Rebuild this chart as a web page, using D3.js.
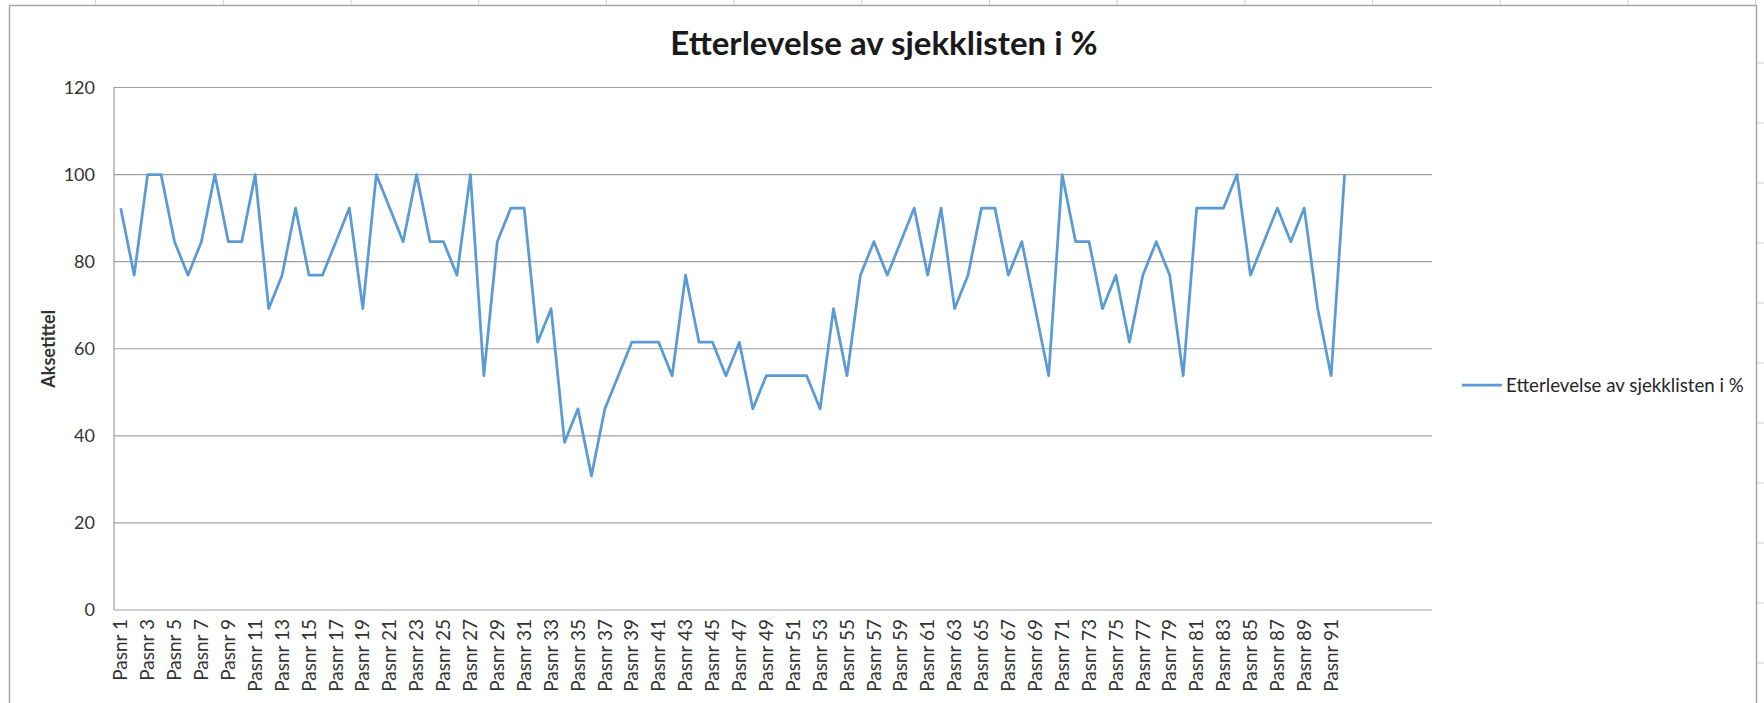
<!DOCTYPE html>
<html lang="en">
<head>
    <meta charset="UTF-8">
    <title>Etterlevelse av sjekklisten i %</title>
</head>

<style>
    body {
        margin: 0;
        background: #fff;
    }
    .title {
        font: bold 33px Lato;
        fill: #1a1a1a;
    }
    .axticks text {
        font: 18px Lato;
        fill: #333;
    }
    .xticks text {
        font-size: 19px;
    }
    .grid line {
        stroke: #a0a0a0;
        stroke-width: 1.2px;
    }
    .axlabel {
        font: bold 18px Lato;
        fill: #333;
    }
    .legend text {
        font: 18.7px Lato;
        fill: #262626;
    }
    path.line {
        fill: none;
        stroke: #5b9bd5;
        stroke-width: 2.75px;
        stroke-linejoin: round;
    }
</style>
<body>
<div id="my_dataviz"></div>
</body>

<script src="https://cdn.jsdelivr.net/npm/d3@7"></script>

<script>
    // data (13 point checklist, so values are multiples of 1/13)
    var categories = d3.range(1, 93).map(function(i) { return "Pasnr " + i; });
    var blankCategories = 6;   // empty slots after Pasnr 92 in the sheet
    var values = [
        92.3, 76.9, 100, 100, 84.6, 76.9, 84.6, 100, 84.6, 84.6,
        100, 69.2, 76.9, 92.3, 76.9, 76.9, 84.6, 92.3, 69.2, 100,
        92.3, 84.6, 100, 84.6, 84.6, 76.9, 100, 53.8, 84.6, 92.3,
        92.3, 61.5, 69.2, 38.5, 46.2, 30.8, 46.2, 53.8, 61.5, 61.5,
        61.5, 53.8, 76.9, 61.5, 61.5, 53.8, 61.5, 46.2, 53.8, 53.8,
        53.8, 53.8, 46.2, 69.2, 53.8, 76.9, 84.6, 76.9, 84.6, 92.3,
        76.9, 92.3, 69.2, 76.9, 92.3, 92.3, 76.9, 84.6, 69.2, 53.8,
        100, 84.6, 84.6, 69.2, 76.9, 61.5, 76.9, 84.6, 76.9, 53.8,
        92.3, 92.3, 92.3, 100, 76.9, 84.6, 92.3, 84.6, 92.3, 69.2,
        53.8, 100
    ];
    var yTicks = [0, 20, 40, 60, 80, 100, 120];
    var chartTitle = "Etterlevelse av sjekklisten i %";
    var seriesName = "Etterlevelse av sjekklisten i %";
    var yTitle = "Aksetittel";

    var W = 1764, H = 703;
    var margin = {top: 87.5, right: 332, bottom: 93, left: 114},
        width = W - margin.left - margin.right,
        height = H - margin.top - margin.bottom;

    var root = d3.select("#my_dataviz")
        .append("svg")
        .attr("width", W)
        .attr("height", H);

    // spreadsheet cells peeking around the chart object
    root.append("g")
        .selectAll("line")
        .data(d3.range(95.6, W, 127.7))
        .enter().append("line")
        .attr("x1", d => d).attr("x2", d => d)
        .attr("y1", 0).attr("y2", 5)
        .attr("stroke", "#d0d0d0");
    root.append("g")
        .selectAll("line")
        .data(d3.range(63, H, 60))
        .enter().append("line")
        .attr("x1", 1757).attr("x2", W)
        .attr("y1", d => d).attr("y2", d => d)
        .attr("stroke", "#d0d0d0");

    // chart area border
    root.append("rect")
        .attr("x", 9.5)
        .attr("y", 5.5)
        .attr("width", 1747)
        .attr("height", H + 10)
        .attr("fill", "#fff")
        .attr("stroke", "#a6a6a6")
        .attr("stroke-width", 1.5);

    var svg = root.append("g")
        .attr("transform", "translate(" + margin.left + "," + margin.top + ")");

    // scales
    var allSlots = d3.range(categories.length + blankCategories);
    var x = d3.scaleBand()
        .domain(allSlots)
        .range([0, width])
        .padding(0);
    var y = d3.scaleLinear()
        .domain([0, 120])
        .range([height, 0]);

    // horizontal gridlines
    svg.append("g")
        .attr("class", "grid")
        .selectAll("line")
        .data(yTicks)
        .enter().append("line")
        .attr("x1", 0)
        .attr("x2", width)
        .attr("y1", d => y(d))
        .attr("y2", d => y(d));

    // Add Y axis
    var yAxis = svg.append("g")
        .attr("class", "axticks")
        .call(d3.axisLeft(y).tickValues(yTicks).tickSize(0).tickPadding(19));
    yAxis.select(".domain").remove();
    svg.append("line")
        .attr("x1", 0).attr("x2", 0)
        .attr("y1", 0).attr("y2", height)
        .attr("stroke", "#a0a0a0")
        .attr("stroke-width", 1.2);

    // Add X axis, every second label like Excel does
    var xAxis = svg.append("g")
        .attr("class", "axticks xticks")
        .attr("transform", "translate(0," + height + ")")
        .call(d3.axisBottom(x)
            .tickValues(allSlots.filter(i => i % 2 === 0))
            .tickSize(0)
            .tickFormat(i => i < categories.length ? categories[i] : ""));
    xAxis.select(".domain").remove();
    xAxis.selectAll("text")
        .attr("transform", "rotate(-90)")
        .attr("x", -9)
        .attr("y", 0)
        .attr("dy", "0.35em")
        .style("text-anchor", "end");

    // the line itself
    var line = d3.line()
        .x((d, i) => x(i) + x.bandwidth() / 2)
        .y(d => y(d));
    svg.append("path")
        .datum(values)
        .attr("class", "line")
        .attr("d", line);

    // Chart Title
    root.append("text")
        .attr("class", "title")
        .attr("x", 884)
        .attr("y", 43)
        .attr("dy", "0.35em")
        .attr("text-anchor", "middle")
        .text(chartTitle);

    // Add Y axis label
    root.append("text")
        .attr("class", "axlabel")
        .attr("transform", "rotate(-90)")
        .attr("x", -(margin.top + height / 2))
        .attr("y", 49)
        .attr("dy", "0.35em")
        .attr("text-anchor", "middle")
        .text(yTitle);

    // legend
    var legend = root.append("g")
        .attr("class", "legend")
        .attr("transform", "translate(1462,385)");
    legend.append("line")
        .attr("x1", 0).attr("x2", 40)
        .attr("y1", 0).attr("y2", 0)
        .attr("stroke", "#5b9bd5")
        .attr("stroke-width", 2.75);
    legend.append("text")
        .attr("x", 44)
        .attr("y", 0)
        .attr("dy", "0.35em")
        .text(seriesName);
</script>
</html>
